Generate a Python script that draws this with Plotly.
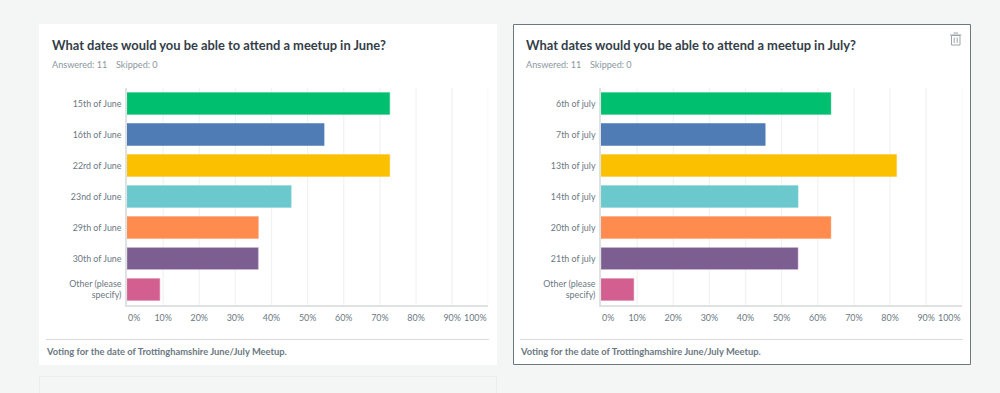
import plotly.graph_objects as go

W, H = 1000, 393
FONT = "Lato"

june_labels = ["15th of June", "16th of June", "22rd of June", "23nd of June", "29th of June", "30th of June", "Other (please<br>specify)"]
june_values = [72.73, 54.55, 72.73, 45.45, 36.36, 36.36, 9.09]
july_labels = ["6th of july", "7th of july", "13th of july", "14th of july", "20th of july", "21th of july", "Other (please<br>specify)"]
july_values = [63.64, 45.45, 81.82, 54.55, 63.64, 54.55, 9.09]
bar_colors = ["#00bf6f", "#507cb6", "#fbc000", "#6bc8cd", "#ff8b4f", "#7d5e90", "#d25f90"]
bar_edges = ["#3fcf93", "#4a78b4", "#fcc933", "#8ad4d8", "#ffa070", "#cdbdd6", "#e58fb4"]
tick_vals = [10, 20, 30, 40, 50, 60, 70, 80, 90]
tick_text = ["10%", "20%", "30%", "40%", "50%", "60%", "70%", "80%", "90%"]
grid_vals = [0, 10, 20, 30, 40, 50, 60, 70, 80, 90, 100]
june_title = "What dates would you be able to attend a meetup in June?"
july_title = "What dates would you be able to attend a meetup in July?"
meta_answered = "Answered: 11"
meta_skipped = "Skipped: 0"
footer = "Voting for the date of Trottinghamshire June/July Meetup."

def px(x): return x / W
def py(y): return 1 - y / H

shapes, annotations = [], []

def rect(x0, y0, x1, y1, fill, line=None, lw=0):
    shapes.append(dict(type="rect", xref="paper", yref="paper", x0=px(x0), x1=px(x1), y0=py(y1), y1=py(y0),
                       fillcolor=fill, line=dict(color=line or fill, width=lw), layer="below"))

def hline(x0, x1, y, color, lw=1):
    shapes.append(dict(type="line", xref="paper", yref="paper", x0=px(x0), x1=px(x1), y0=py(y), y1=py(y),
                       line=dict(color=color, width=lw), layer="below"))

def text(x, y, s, size, color, weight=400, anchor="left"):
    annotations.append(dict(xref="paper", yref="paper", x=px(x), y=py(y), text=s, showarrow=False,
                            xanchor=anchor, yanchor="middle", borderpad=0,
                            font=dict(family=FONT, size=size, color=color, weight=weight)))

# cards
rect(39.5, 376.5, 496.5, 400, "#f4f6f5", "#eceeed", 1)
rect(39, 24, 497, 365, "#ffffff")
rect(513.5, 24.5, 970.5, 364.5, "#ffffff", "#6b787f", 1)

def panel(x_card, x0, title):
    text(x_card + 12, 45, title, 12.9, "#333e48", 700)
    text(x_card + 11.5, 65, meta_answered, 9.1, "#8b979e")
    text(x_card + 76, 65, meta_skipped, 9.1, "#8b979e")
    hline(x0 - 81, x0 + 362, 339.5, "#d9dcde", 1)
    text(x0 - 82, 351.5, footer, 9.35, "#6b787f", 700)
    text(x0, 317, "0%", 8.9, "#6b787f")
    text(x0 + 361, 317, "100%", 8.9, "#6b787f", anchor="right")

panel(39, 127, june_title)
panel(513, 601, july_title)

# trash icon
shapes.append(dict(type="rect", xref="paper", yref="paper", x0=px(951.5), x1=px(960), y0=py(45), y1=py(35.5),
                   line=dict(color="#9aa4aa", width=1), fillcolor="rgba(0,0,0,0)"))
hline(950, 961.5, 35, "#9aa4aa", 1)
hline(953.5, 958, 33, "#9aa4aa", 1)
for xv in (954.2, 957.2):
    shapes.append(dict(type="line", xref="paper", yref="paper", x0=px(xv), x1=px(xv), y0=py(43), y1=py(37.5),
                       line=dict(color="#9aa4aa", width=1)))

fig = go.Figure()
for labels, values, xa, ya in [(june_labels, june_values, "x", "y"), (july_labels, july_values, "x2", "y2")]:
    fig.add_trace(go.Bar(y=labels, x=values, orientation="h", xaxis=xa, yaxis=ya, width=0.71,
                         marker=dict(color=bar_colors, line=dict(color=bar_edges, width=0.5)),
                         showlegend=False, hoverinfo="skip"))

def xaxis(x0):
    return dict(domain=[px(x0), px(x0 + 361.3)], range=[0, 100], tickmode="array", tickvals=tick_vals, ticktext=tick_text,
                showgrid=False, zeroline=False, showline=True, linecolor="#dfe2e3", linewidth=1.5,
                ticks="", ticklabelstandoff=4, fixedrange=True,
                tickfont=dict(family=FONT, size=8.9, color="#6b787f"))

def yaxis(x_anchor):
    return dict(domain=[py(305), py(88)], anchor=x_anchor, autorange="reversed", showgrid=False, zeroline=False,
                showline=True, linecolor="#dfe2e3", linewidth=1.5, ticks="", ticklabelstandoff=2, fixedrange=True,
                tickfont=dict(family=FONT, size=8.9, color="#6b787f"))

for xr, yr in [("x", "y domain"), ("x2", "y2 domain")]:
    for v in grid_vals[1:]:
        shapes.append(dict(type="line", xref=xr, yref=yr, x0=v, x1=v, y0=0, y1=1,
                           line=dict(color="#f1f2f3", width=1.2), layer="below"))

fig.update_layout(
    width=W, height=H, autosize=False, margin=dict(l=0, r=0, t=0, b=0),
    paper_bgcolor="#f4f6f5", plot_bgcolor="rgba(0,0,0,0)", shapes=shapes, annotations=annotations,
    xaxis=dict(xaxis(127), anchor="y"), yaxis=yaxis("x"),
    xaxis2=dict(xaxis(601), anchor="y2"), yaxis2=yaxis("x2"),
    bargap=0.29,
)
fig.write_html("out.html", config=dict(displayModeBar=False),
               post_script="document.body.style.margin='0';")
